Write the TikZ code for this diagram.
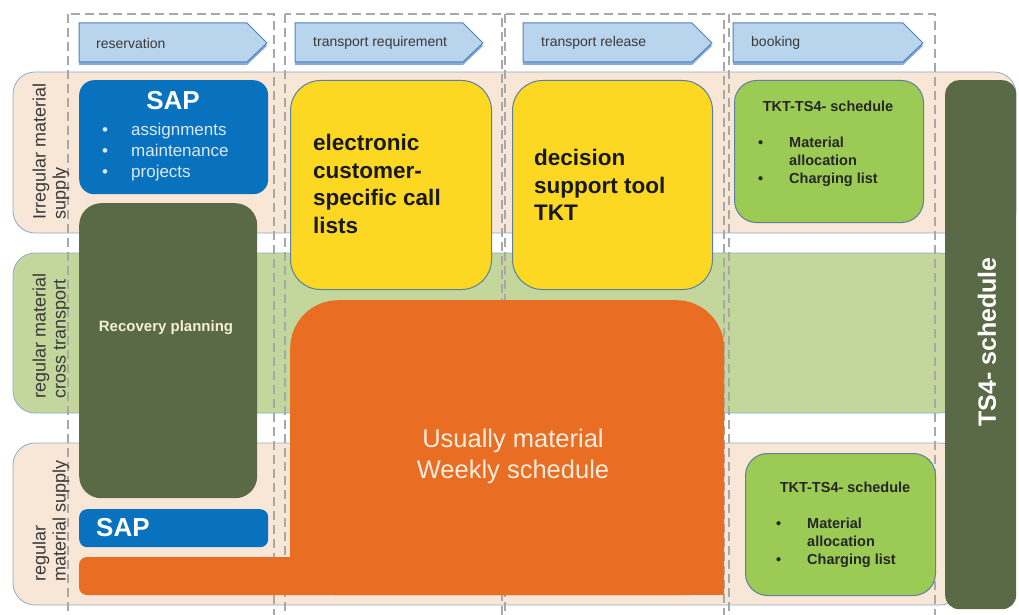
\documentclass[tikz,border=0pt]{standalone}
\usepackage{fontspec}
\setmainfont{Liberation Sans}
\usetikzlibrary{shadows}

\definecolor{bandpeach}{HTML}{F8E6D6}
\definecolor{bandgreen}{HTML}{C3D69B}
\definecolor{bandline}{HTML}{8FACCB}
\definecolor{colgray}{HTML}{A8A8A8}
\definecolor{hdrfill}{HTML}{B9D5EE}
\definecolor{hdrline}{HTML}{4F81BD}
\definecolor{hdrshadow}{HTML}{5F8FCB}
\definecolor{darktext}{HTML}{3A3A3A}
\definecolor{sapblue}{HTML}{0872BF}
\definecolor{saptext}{HTML}{DCE9F6}
\definecolor{olive}{HTML}{5A6A47}
\definecolor{cream}{HTML}{F2EFD2}
\definecolor{yellowc}{HTML}{FCD823}
\definecolor{tktgreen}{HTML}{9BCB55}
\definecolor{boxline}{HTML}{5D7FA0}
\definecolor{orangec}{HTML}{E96D22}
\definecolor{orangetext}{HTML}{FBEEE0}

\begin{document}
\begin{tikzpicture}[x=1pt, y=-1pt,
  band/.style={draw=bandline, line width=0.8pt, rounded corners=22},
  column/.style={draw=colgray, line width=1.6pt, dash pattern=on 9pt off 5pt},
  phase/.style={draw=hdrline, fill=hdrfill, line width=1pt,
                drop shadow={shadow xshift=0pt, shadow yshift=-3pt, fill=hdrshadow, opacity=0.75}},
  phasetxt/.style={anchor=west, inner sep=0pt, text=darktext, font=\fontsize{14}{16}\selectfont},
  rowtxt/.style={rotate=90, align=left, inner sep=0pt, text=darktext, font=\fontsize{18}{20}\selectfont},
  box/.style={rectangle, anchor=north west, inner sep=0pt},
  callbox/.style={box, fill=yellowc, draw=boxline, line width=1pt, rounded corners=30,
                  minimum width=200, minimum height=209},
  tktbox/.style={box, fill=tktgreen, draw=boxline, line width=1pt, rounded corners=22,
                 minimum width=189, minimum height=142},
  calltxt/.style={anchor=north west, inner sep=0pt, align=left, text=black!90,
                  font=\fontsize{22.5}{27.5}\selectfont\bfseries},
  tkttitle/.style={inner sep=0pt, text=black!85, font=\fontsize{14.5}{17}\selectfont\bfseries},
  tktlist/.style={anchor=north west, inner sep=0pt, align=left, text=black!85,
                  font=\fontsize{14.5}{18}\selectfont\bfseries}
]
  \useasboundingbox (0,0) rectangle (1019,615);
  \clip (0,0) rectangle (1019,615);

  % row bands
  \draw[band, fill=bandpeach] (13,72) rectangle (1016,233);
  \draw[band, fill=bandgreen] (13,253) rectangle (962,413);
  \draw[band, fill=bandpeach] (13,443) rectangle (962,605);

  % dashed phase columns
  \draw[column] (68,14) rectangle (274,640);
  \draw[column] (285,14) rectangle (502,640);
  \draw[column] (505,14) rectangle (724,640);
  \draw[column] (729,14) rectangle (935,640);

  % phase headers
  \draw[phase] (79,23) -- (247,23) -- (267,43) -- (247,62) -- (79,62) -- cycle;
  \node[phasetxt] (reserv) at (96,43) {reservation};
  \draw[phase] (295,23) -- (463,23) -- (483,43) -- (463,62) -- (295,62) -- cycle;
  \node[phasetxt] (treq) at (313,43) {transport requirement};
  \draw[phase] (523,23) -- (692,23) -- (712,43) -- (692,62) -- (523,62) -- cycle;
  \node[phasetxt] (trel) at (541,43) {transport release};
  \draw[phase] (733,23) -- (903,23) -- (923,43) -- (903,62) -- (733,62) -- cycle;
  \node[phasetxt] (book) at (751,43) {booking};

  % row labels
  \node[rowtxt] (irreg) at (51,151) {Irregular material\\supply};
  \node[rowtxt] (cross) at (51,336) {regular material\\cross transport};
  \node[rowtxt] (regsup) at (51,521) {regular\\material supply};

  % SAP and recovery planning
  \node[box, fill=sapblue, rounded corners=15, minimum width=189, minimum height=114] (sapa) at (79,80) {};
  \node[inner sep=0pt, text=white, font=\fontsize{26}{30}\selectfont\bfseries] (saptitle) at (173,101) {SAP};
  \node[anchor=north west, inner sep=0pt, align=left, text=saptext, font=\fontsize{17}{21}\selectfont]
    (saplist) at (102,123) {\makebox[29pt][l]{\textbullet}assignments\\
      \makebox[29pt][l]{\textbullet}maintenance\\ \makebox[29pt][l]{\textbullet}projects};
  \node[box, fill=olive, rounded corners=22, minimum width=178, minimum height=295] (recov) at (79,203) {};
  \node[inner sep=0pt, text=cream, font=\fontsize{15}{18}\selectfont\bfseries] (recovtxt) at (166,328) {Recovery planning};
  \node[box, fill=sapblue, rounded corners=8, minimum width=189, minimum height=38] (sapb) at (79,509) {};
  \node[anchor=west, inner sep=0pt, text=white, font=\fontsize{26}{30}\selectfont\bfseries] (sapbtxt) at (96,528) {SAP};

  % weekly schedule block
  \fill[orangec, rounded corners=8] (79,557) rectangle (700,595);
  \node[box, fill=orangec, rounded corners=48, minimum width=434, minimum height=295] (weekly) at (290,300) {};
  \fill[orangec] (290,450) rectangle (724,595);
  \node[align=center, inner sep=0pt, text=orangetext, font=\fontsize{25.5}{31}\selectfont]
    (weeklytxt) at (513,456) {Usually material\\Weekly schedule};

  % call lists and decision support
  \node[callbox, minimum width=201] (calls) at (290,80) {};
  \node[calltxt] (callstxt) at (313,134) {electronic\\customer-\\specific call\\lists};
  \node[callbox] (dst) at (512,80) {};
  \node[calltxt] (dsttxt) at (534,149) {decision\\support tool\\TKT};

  % TKT-TS4 schedules
  \node[tktbox] (tkta) at (734,80) {};
  \node[tkttitle] (tktatitle) at (828,106) {TKT-TS4- schedule};
  \node[tktlist] (tktalist) at (758,137) {\makebox[31pt][l]{\textbullet}Material\\
      \hspace*{31pt}allocation\\ \makebox[31pt][l]{\textbullet}Charging list};
  \node[tktbox, minimum width=190] (tktb) at (745,453) {};
  \node[tkttitle] (tktbtitle) at (845,487) {TKT-TS4- schedule};
  \node[tktlist] (tktblist) at (776,518) {\makebox[31pt][l]{\textbullet}Material\\
      \hspace*{31pt}allocation\\ \makebox[31pt][l]{\textbullet}Charging list};

  % TS4 schedule bar
  \node[box, fill=olive, rounded corners=14, minimum width=71, minimum height=529] (ts4) at (945,80) {};
  \node[rotate=90, inner sep=0pt, text=white, font=\fontsize{25}{30}\selectfont\bfseries] (ts4txt) at (987,342) {TS4- schedule};
\end{tikzpicture}
\end{document}
